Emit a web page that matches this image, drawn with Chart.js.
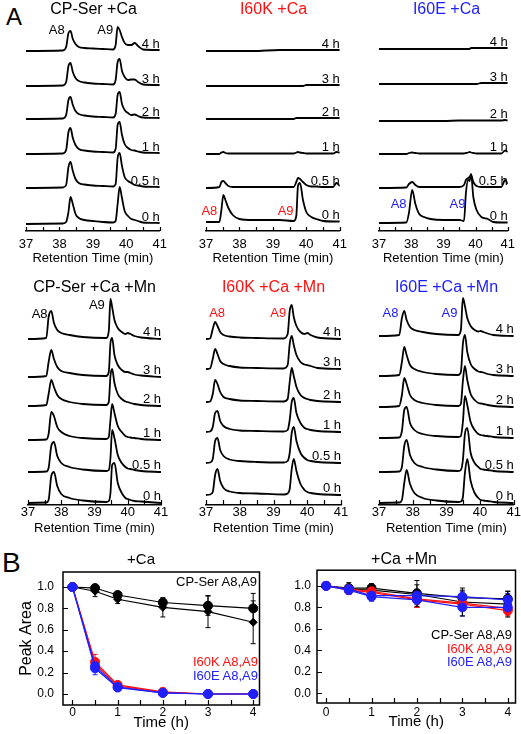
<!DOCTYPE html>
<html>
<head>
<meta charset="utf-8">
<script src="https://cdn.jsdelivr.net/npm/chart.js@4.4.1/dist/chart.umd.min.js"></script>
<style>
  body { margin: 0; width: 521px; height: 734px; overflow: hidden; background: #fff; position: relative;
         font-family: "Liberation Sans", Arial, sans-serif; }
  canvas { position: absolute; }
  .t { position: absolute; white-space: nowrap; line-height: 1; }
</style>
</head>
<body>
<div class="t" style="left:6px;top:5px;font-size:24px">A</div>
<div class="t" style="left:2px;top:549px;font-size:28px">B</div>

<canvas id="serCa" width="163" height="266" style="left:10px;top:0"></canvas>
<canvas id="kCa" width="169" height="266" style="left:184px;top:0"></canvas>
<canvas id="eCa" width="157" height="266" style="left:364px;top:0"></canvas>
<canvas id="serCaMn" width="160" height="258" style="left:16px;top:278px"></canvas>
<canvas id="kCaMn" width="170" height="258" style="left:183px;top:278px"></canvas>
<canvas id="eCaMn" width="151" height="258" style="left:370px;top:278px"></canvas>
<canvas id="areaCa" width="246" height="179" style="left:19px;top:551px"></canvas>
<canvas id="areaCaMn" width="232" height="179" style="left:289px;top:550px"></canvas>

<div class="t" style="right:264px;top:575px;font-size:13px;color:#000">CP-Ser A8,A9</div>
<div class="t" style="right:263px;top:655px;font-size:13px;color:#ff1010">I60K A8,A9</div>
<div class="t" style="right:263px;top:669px;font-size:13px;color:#2020ff">I60E A8,A9</div>
<div class="t" style="right:9px;top:628px;font-size:13px;color:#000">CP-Ser A8,A9</div>
<div class="t" style="right:9px;top:642px;font-size:13px;color:#ff1010">I60K A8,A9</div>
<div class="t" style="right:9px;top:655px;font-size:13px;color:#2020ff">I60E A8,A9</div>

<script>
// incubation times, bottom trace first
const timeLabels = ['0 h', '0.5 h', '1 h', '2 h', '3 h', '4 h'];

// chromatograms: retention time grid per panel, detector signal per trace (0 h ... 4 h)
const rtSerCa = [37, 38.1, 38.2, 38.27, 38.33, 38.4, 38.48, 38.58, 38.75, 39.0, 39.3, 39.6, 39.68, 39.74, 39.8, 39.87, 39.95, 40.05, 40.15, 40.25, 40.35, 40.5, 41];
const serCa = [
  [0, 0.5, 2, 12, 27, 20, 10, 6, 4, 3, 2, 1.5, 3, 20, 37, 26, 13, 8, 5, 4, 3, 1.5, 1],
  [0, 0.5, 3, 21, 26, 17, 9, 5, 3.5, 2.5, 2, 1.5, 4, 30, 35, 22, 11, 7, 5, 3, 2.5, 1.5, 1],
  [0, 0.5, 4, 22, 26, 16, 9, 5, 3.5, 2.5, 2, 1.5, 5, 29, 32, 19, 10, 6, 4, 3.5, 2.5, 1.5, 1],
  [0, 0.5, 4, 19, 22, 14, 8, 5, 3.5, 2.5, 2, 1.5, 5, 24, 27, 15, 9, 6, 4, 4.5, 3, 1.5, 1],
  [0, 0.5, 4, 20, 23, 14, 8, 5, 3.5, 2.5, 2, 1.5, 6, 24, 27, 15, 9, 6, 6.5, 6.5, 4, 1.5, 1],
  [0, 0.5, 4, 18, 20, 12, 7, 4, 3, 2.5, 2, 1.5, 6, 24, 21, 14, 8, 6, 6, 8, 5, 1.5, 1]
];

const rtKCa = [37, 37.4, 37.46, 37.52, 37.58, 37.67, 37.8, 38.0, 38.4, 39.2, 39.62, 39.7, 39.75, 39.81, 39.9, 40.0, 40.15, 40.3, 40.5, 40.8, 40.9, 41];
const kCa = [
  [0, 0, 12, 27, 22, 14, 7, 3, 2, 2, 1, 6, 36, 39, 22, 10, 5, 3, 1, 0.5, 0.5, 0.5],
  [0, 1, 6, 7, 5, 2, 1, 1, 1, 1, 1, 6, 10, 9, 6, 3, 1.5, 1.5, 1, 1, 5, 2],
  [0, 0, 1.5, 2, 1, 0.5, 0.5, 0.5, 0.5, 0.5, 0.5, 1.5, 2, 1.5, 1, 0.5, 0.5, 0.5, 0.5, 0.5, 2, 1.5],
  [0, 0, 0, 0, 0, 0, 0, 0, 0, 0, 0, 1, 1, 1, 1, 1, 1, 1, 1, 1, 1, 1],
  [0, 0, 0, 0, 0, 0, 0, 0, 0, 0, 0, 0, 0, 0, 0, 1, 1, 1, 1, 1, 1, 1],
  [0, 0, 0, 0, 0, 0, 0, 0, 0, 1, 1, 1, 1, 1, 1, 1, 1, 1, 1, 1, 1, 1]
];

const rtECa = [37, 37.85, 37.93, 38.03, 38.13, 38.25, 38.4, 38.6, 39.0, 39.5, 39.64, 39.7, 39.77, 39.81, 39.86, 39.93, 40.03, 40.18, 40.38, 40.55, 40.8, 40.92, 41];
const eCa = [
  [0, 0.5, 10, 33, 19, 9, 6, 4, 3, 3, 2, 30, 43, 42, 49, 26, 13, 6, 4, 1, 0.5, 0.5, 0.5],
  [0, 0.5, 4, 6, 3, 1, 1, 1, 1, 1, 3, 8, 10, 11, 13, 6, 2, 1, 1, 1, 1, 8, 4],
  [0, 0, 1, 1.5, 1, 0.5, 0.5, 0.5, 0.5, 0.5, 0.5, 1, 1.5, 2, 1.5, 1, 0.5, 0.5, 0.5, 0.5, 0.5, 3.5, 2],
  [0, 0, 0, 0, 0, 0, 0, 0, 0, 0.5, 0.5, 0.5, 0.5, 0.5, 0.5, 0.5, 0.5, 0.5, 0.5, 0.5, 0.5, 1, 0.5],
  [0, 0, 0, 0, 0, 0, 0, 0, 0, 0, 0, 0, 0, 0, 0, 0, 0, 1, 1, 1, 1, 1, 1],
  [0, 0, 0, 0, 0, 0, 0, 0, 0, 0, 0, 0, 0, 0, 1, 1, 1, 1, 1, 1, 1, 1, 1]
];

const rtSerCaMn = [37, 37.55, 37.62, 37.7, 37.78, 37.88, 38.0, 38.25, 38.65, 39.35, 39.43, 39.48, 39.53, 39.6, 39.7, 39.82, 39.93, 40.0, 40.08, 40.2, 40.4, 41];
const serCaMn = [
  [0, 0.5, 3, 27, 31, 17, 9, 5, 2.5, 1, 2, 10, 38, 40, 20, 10, 5, 4, 3, 2, 1.5, 0],
  [0, 0.5, 4, 26, 30, 16, 9, 5, 2.5, 1, 2, 14, 42, 34, 17, 9, 5, 3.5, 3, 2, 1, 0],
  [0, 0.5, 6, 28, 24, 13, 8, 4, 2, 1, 3, 20, 36, 27, 14, 8, 4, 3, 2.5, 2, 1, 0],
  [0, 1, 12, 26, 19, 11, 7, 4, 2, 1, 4, 30, 37, 23, 12, 7, 4.5, 4, 3, 2, 1, 0],
  [0, 1, 15, 27, 18, 10, 6, 4, 2, 1, 5, 34, 39, 22, 12, 7, 5, 5, 4, 2.5, 1.5, 0],
  [0, 1, 22, 28, 16, 9, 6, 4, 2, 1, 8, 40, 32, 19, 11, 7, 5, 6, 5, 3, 1.5, 0]
];

const rtKCaMn = [37, 37.12, 37.2, 37.27, 37.34, 37.42, 37.52, 37.7, 38.0, 38.5, 39.3, 39.42, 39.48, 39.54, 39.6, 39.68, 39.8, 39.92, 40.0, 40.1, 40.3, 41];
const kCaMn = [
  [0, 0.5, 3, 20, 26, 14, 7, 3.5, 2, 1.5, 0.5, 1.5, 6, 26, 36, 24, 11, 5, 3, 2, 1, 0],
  [0, 0.5, 4, 22, 25, 13, 7, 3.5, 2, 1, 0.5, 2, 10, 30, 36, 22, 10, 5, 3, 2, 1, 0],
  [0, 0.5, 5, 19, 21, 11, 6, 3, 1.5, 1, 0.5, 2, 12, 30, 34, 19, 9, 4, 3, 2, 1, 0],
  [0, 0.5, 8, 22, 18, 10, 5, 3, 1.5, 1, 0.5, 3, 20, 34, 26, 15, 7, 4, 3, 2, 1, 0],
  [0, 0.5, 10, 20, 15, 8, 5, 3, 1.5, 1, 0.5, 4, 25, 33, 24, 14, 7, 4.5, 4, 3, 1, 0],
  [0, 0.5, 10, 17, 13, 7, 4, 2.5, 1.5, 1, 0.5, 5, 28, 34, 22, 13, 7, 5, 6, 4, 1.5, 0]
];

const rtECaMn = [37, 37.6, 37.68, 37.75, 37.82, 37.92, 38.05, 38.3, 38.7, 39.35, 39.43, 39.49, 39.55, 39.62, 39.72, 39.84, 39.95, 40.02, 40.1, 40.22, 40.4, 41];
const eCaMn = [
  [0, 0.5, 3, 20, 33, 19, 10, 5, 2.5, 1, 1.5, 6, 30, 44, 22, 10, 5, 3, 2.5, 2, 1, 0],
  [0, 0.5, 5, 26, 32, 17, 9, 5, 2.5, 1, 2, 12, 38, 44, 19, 9, 5, 3, 2.5, 2, 1, 0],
  [0, 0.5, 7, 28, 31, 15, 8, 4, 2, 1, 2, 16, 42, 33, 16, 8, 4, 3, 2.5, 2, 1, 0],
  [0, 1, 12, 29, 23, 12, 7, 4, 2, 1, 3, 26, 41, 27, 13, 7, 4, 3.5, 3, 2, 1, 0],
  [0, 1, 14, 29, 21, 11, 7, 4, 2, 1, 4, 32, 41, 24, 12, 7, 4.5, 4, 3.5, 2, 1, 0],
  [0, 1, 18, 25, 16, 9, 6, 4, 2, 1, 6, 38, 30, 18, 10, 6, 4.5, 5, 4, 2.5, 1, 0]
];

// panel B: normalised peak area vs time
const hours = [0, 0.5, 1, 2, 3, 4];
const caSerA8 = [1.0, 0.99, 0.925, 0.855, 0.825, 0.80];
const caSerA8Err = [0, 0.02, 0.02, 0.03, 0.09, 0.14];
const caSerA9 = [1.0, 0.96, 0.885, 0.81, 0.77, 0.67];
const caSerA9Err = [0, 0.05, 0.04, 0.09, 0.15, 0.2];
const caKA8 = [1.0, 0.30, 0.085, 0.02, 0.0, 0.0];
const caKA8Err = [0, 0.07, 0.02, 0.01, 0, 0];
const caKA9 = [1.0, 0.28, 0.075, 0.015, 0.0, 0.0];
const caKA9Err = [0, 0.05, 0.02, 0.01, 0, 0];
const caEA8 = [1.0, 0.26, 0.065, 0.01, 0.0, 0.0];
const caEA8Err = [0, 0.05, 0.01, 0, 0, 0];
const caEA9 = [1.0, 0.24, 0.06, 0.01, 0.0, 0.0];
const caEA9Err = [0, 0.06, 0.01, 0, 0, 0];

const mnSerA8 = [1.0, 0.98, 0.98, 0.93, 0.89, 0.88];
const mnSerA8Err = [0, 0.05, 0.04, 0.12, 0.07, 0.07];
const mnSerA9 = [1.0, 0.97, 0.96, 0.92, 0.85, 0.83];
const mnSerA9Err = [0, 0.04, 0.04, 0.09, 0.13, 0.12];
const mnKA8 = [1.0, 0.97, 0.95, 0.88, 0.84, 0.79];
const mnKA8Err = [0, 0.04, 0.04, 0.08, 0.06, 0.06];
const mnKA9 = [1.0, 0.96, 0.94, 0.87, 0.83, 0.77];
const mnKA9Err = [0, 0.04, 0.03, 0.07, 0.06, 0.05];
const mnEA8 = [1.0, 0.97, 0.91, 0.91, 0.90, 0.87];
const mnEA8Err = [0, 0.04, 0.05, 0.06, 0.05, 0.06];
const mnEA9 = [1.0, 0.96, 0.90, 0.87, 0.80, 0.80];
const mnEA9Err = [0, 0.04, 0.04, 0.07, 0.08, 0.06];

const BLACK = '#000', RED = '#ff1010', BLUE = '#2020ff';
const FONT = '"Liberation Sans", Arial, sans-serif';
Chart.defaults.font.family = FONT;
Chart.defaults.color = '#000';

function tracePanel(p) {
  const datasets = p.traces.map((ys, i) => ({
    data: ys.map((y, j) => ({ x: p.rt[j], y: y + p.lift[i] })),
    borderColor: BLACK, borderWidth: 1.8, pointRadius: 0,
    cubicInterpolationMode: 'monotone', fill: false
  }));
  const marks = {
    id: 'marks',
    afterDraw(chart) {
      const { ctx, chartArea: a, scales: { x, y } } = chart;
      ctx.save();
      ctx.strokeStyle = BLACK; ctx.lineWidth = 1.2;
      for (let v = 37; v <= 41; v += 0.5) {
        const px = Math.round(x.getPixelForValue(v)) + 0.5;
        ctx.beginPath(); ctx.moveTo(px, a.bottom); ctx.lineTo(px, a.bottom - p.tick); ctx.stroke();
      }
      ctx.font = '13px ' + FONT;
      ctx.fillStyle = BLACK; ctx.textAlign = 'right'; ctx.textBaseline = 'alphabetic';
      p.lift.forEach((l, i) => ctx.fillText(timeLabels[i], a.right, y.getPixelForValue(l) - 3));
      ctx.fillStyle = p.color; ctx.textAlign = 'center'; ctx.textBaseline = 'middle';
      p.peaks.forEach(k => ctx.fillText(k.text, x.getPixelForValue(k.rt), y.getPixelForValue(k.h)));
      ctx.restore();
    }
  };
  new Chart(document.getElementById(p.id), {
    type: 'line',
    data: { datasets },
    options: {
      responsive: false, animation: false, events: [],
      layout: { padding: { left: p.padL, right: p.padR, top: 0, bottom: 0 } },
      plugins: {
        legend: { display: false }, tooltip: { enabled: false },
        title: { display: true, text: p.title, color: p.color, font: { size: 16, weight: 'normal' }, padding: 0 }
      },
      scales: {
        x: {
          type: 'linear', min: 37, max: 41,
          afterFit: s => { s.height = p.xBox; },
          grid: { display: true, drawOnChartArea: false, drawTicks: false },
          border: { display: true, color: BLACK, width: 1.5 },
          ticks: { stepSize: 1, padding: p.tickPad, font: { size: 13 }, color: BLACK, maxRotation: 0, includeBounds: false },
          title: { display: true, text: 'Retention Time (min)', font: { size: 13 }, color: BLACK, padding: 0 }
        },
        y: { display: false, min: 0, max: p.yMax }
      }
    },
    plugins: [marks]
  });
}

tracePanel({ id: 'serCa', title: 'CP-Ser +Ca', color: BLACK, rt: rtSerCa, traces: serCa,
  lift: [7, 43, 77, 112, 145, 180], padL: 16, padR: 12, tickPad: 6, xBox: 35, yMax: 211.8, tick: 4,
  peaks: [{ text: 'A8', rt: 37.92, h: 201 }, { text: 'A9', rt: 39.37, h: 201 }] });
tracePanel({ id: 'kCa', title: 'I60K +Ca', color: RED, rt: rtKCa, traces: kCa,
  lift: [9, 43, 77, 112, 145, 180], padL: 22, padR: 12, tickPad: 6, xBox: 35, yMax: 211.8, tick: 4,
  peaks: [{ text: 'A8', rt: 37.1, h: 20 }, { text: 'A9', rt: 39.38, h: 20 }] });
tracePanel({ id: 'eCa', title: 'I60E +Ca', color: BLUE, rt: rtECa, traces: eCa,
  lift: [8, 43, 77, 110, 147, 182], padL: 15, padR: 7, tickPad: 6, xBox: 35, yMax: 211.8, tick: 4,
  peaks: [{ text: 'A8', rt: 37.61, h: 27 }, { text: 'A9', rt: 39.44, h: 27 }] });
tracePanel({ id: 'serCaMn', title: 'CP-Ser +Ca +Mn', color: BLACK, rt: rtSerCaMn, traces: serCaMn,
  lift: [2, 33, 65, 99, 128, 166], padL: 12, padR: 15, tickPad: 0, xBox: 31, yMax: 207.8, tick: 5,
  peaks: [{ text: 'A8', rt: 37.35, h: 191 }, { text: 'A9', rt: 39.07, h: 200 }] });
tracePanel({ id: 'kCaMn', title: 'I60K +Ca +Mn', color: RED, rt: rtKCaMn, traces: kCaMn,
  lift: [10, 42, 73, 103, 136, 166], padL: 23, padR: 12, tickPad: 0, xBox: 31, yMax: 207.8, tick: 5,
  peaks: [{ text: 'A8', rt: 37.33, h: 192 }, { text: 'A9', rt: 39.14, h: 192 }] });
tracePanel({ id: 'eCaMn', title: 'I60E +Ca +Mn', color: BLUE, rt: rtECaMn, traces: eCaMn,
  lift: [2, 33, 67, 98, 129, 169], padL: 9, padR: 7, tickPad: 0, xBox: 31, yMax: 207.8, tick: 5,
  peaks: [{ text: 'A8', rt: 37.34, h: 192 }, { text: 'A9', rt: 39.09, h: 192 }] });

function series(vals, err, color, style) {
  return {
    data: hours.map((h, i) => ({ x: h, y: vals[i] })), err,
    borderColor: color, backgroundColor: color, borderWidth: 1.2,
    pointStyle: style, pointRadius: style === 'circle' ? 4.5 : 4, pointBorderWidth: 1, fill: false
  };
}

const errorBars = {
  id: 'errorBars',
  beforeDatasetsDraw(chart) {
    const { ctx, scales: { y } } = chart;
    chart.data.datasets.forEach((ds, di) => {
      const meta = chart.getDatasetMeta(di);
      ctx.save(); ctx.strokeStyle = ds.borderColor; ctx.lineWidth = 1;
      ds.err.forEach((e, i) => {
        if (!e) return;
        const px = meta.data[i].x, v = ds.data[i].y;
        const y1 = y.getPixelForValue(v + e), y2 = y.getPixelForValue(v - e);
        ctx.beginPath();
        ctx.moveTo(px, y1); ctx.lineTo(px, y2);
        ctx.moveTo(px - 2.5, y1); ctx.lineTo(px + 2.5, y1);
        ctx.moveTo(px - 2.5, y2); ctx.lineTo(px + 2.5, y2);
        ctx.stroke();
      });
      ctx.restore();
    });
  }
};

const frame = {
  id: 'frame',
  afterDraw(chart) {
    const { ctx, chartArea: a, scales: { x, y } } = chart;
    ctx.save(); ctx.strokeStyle = BLACK; ctx.lineWidth = 1.5;
    ctx.strokeRect(a.left, a.top, a.right - a.left, a.bottom - a.top);
    ctx.lineWidth = 1.2; ctx.beginPath();
    for (let v = 0; v <= 4; v += 0.5) {
      const px = Math.round(x.getPixelForValue(v)) + 0.5;
      ctx.moveTo(px, a.bottom); ctx.lineTo(px, a.bottom - 5);
    }
    for (let v = 0; v <= 1.001; v += 0.2) {
      const py = Math.round(y.getPixelForValue(v)) + 0.5;
      ctx.moveTo(a.left, py); ctx.lineTo(a.left + 5, py);
    }
    ctx.stroke(); ctx.restore();
  }
};

function areaPanel(p) {
  new Chart(document.getElementById(p.id), {
    type: 'line',
    data: { datasets: p.datasets },
    options: {
      responsive: false, animation: false, events: [],
      layout: { padding: { left: 0, right: 2, top: 0, bottom: 0 } },
      plugins: {
        legend: { display: false }, tooltip: { enabled: false },
        title: { display: true, text: p.title, color: BLACK, font: { size: p.titleSize, weight: 'normal' }, padding: { top: 0, bottom: p.titleGap } }
      },
      scales: {
        x: {
          type: 'linear', min: p.xMin, max: p.xMax,
          afterFit: s => { s.height = p.xBox; },
          grid: { display: false, drawTicks: false }, border: { display: false },
          ticks: { stepSize: 1, padding: p.xPad, font: { size: 12 }, color: BLACK, includeBounds: false, maxRotation: 0 },
          title: { display: true, text: 'Time (h)', font: { size: 15, lineHeight: 1 }, color: BLACK, padding: 0 }
        },
        y: {
          min: p.yMin, max: p.yMax,
          afterFit: s => { s.width = p.yBox; },
          grid: { display: false, drawTicks: false }, border: { display: false },
          ticks: { stepSize: 0.2, padding: p.yPad, font: { size: 12 }, color: BLACK, includeBounds: false,
                   callback: v => v.toFixed(1) },
          title: { display: p.yTitle, text: 'Peak Area', font: { size: 16, lineHeight: 1 }, color: BLACK, padding: 0 }
        }
      }
    },
    plugins: [errorBars, frame]
  });
}

// first dataset is drawn on top: blue, then red, then black
areaPanel({ id: 'areaCa', title: '+Ca', titleSize: 15, titleGap: 3,
  xMin: -0.21, xMax: 4.14, yMin: -0.103, yMax: 1.14, xBox: 25, yBox: 44, xPad: 0, yPad: 9, yTitle: true,
  datasets: [
    series(caEA8, caEA8Err, BLUE, 'circle'),
    series(caEA9, caEA9Err, BLUE, 'circle'),
    series(caKA8, caKA8Err, RED, 'circle'),
    series(caKA9, caKA9Err, RED, 'rectRot'),
    series(caSerA8, caSerA8Err, BLACK, 'circle'),
    series(caSerA9, caSerA9Err, BLACK, 'rectRot')
  ] });

areaPanel({ id: 'areaCaMn', title: '+Ca +Mn', titleSize: 16, titleGap: 1,
  xMin: -0.2, xMax: 4.17, yMin: -0.09, yMax: 1.146, xBox: 26, yBox: 28, xPad: 2, yPad: 6, yTitle: false,
  datasets: [
    series(mnEA8, mnEA8Err, BLUE, 'circle'),
    series(mnEA9, mnEA9Err, BLUE, 'circle'),
    series(mnKA8, mnKA8Err, RED, 'circle'),
    series(mnKA9, mnKA9Err, RED, 'circle'),
    series(mnSerA8, mnSerA8Err, BLACK, 'circle'),
    series(mnSerA9, mnSerA9Err, BLACK, 'rectRot')
  ] });
</script>
</body>
</html>
